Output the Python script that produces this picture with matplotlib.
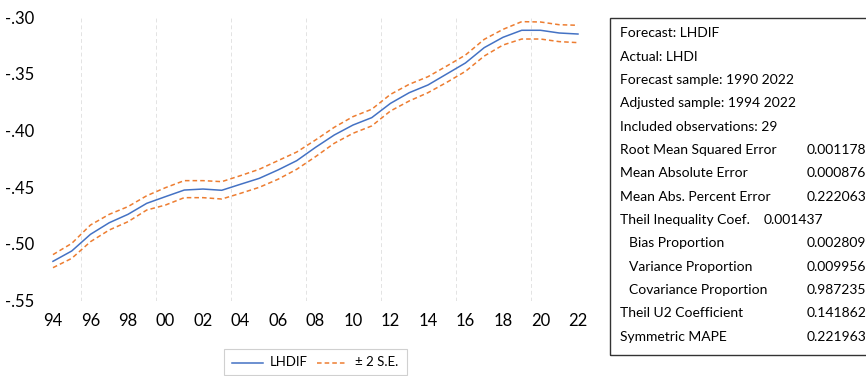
import matplotlib
matplotlib.use("Agg")
import matplotlib.pyplot as plt
from matplotlib.patches import Rectangle
from matplotlib.lines import Line2D
from matplotlib.ticker import FuncFormatter, FixedLocator

plt.rcParams['font.family'] = ['Lato', 'DejaVu Sans']

years = list(range(1994, 2023))
forecast = [-0.5153, -0.5062, -0.4915, -0.4813, -0.4739, -0.4642, -0.4583, -0.4525,
            -0.4516, -0.4527, -0.4474, -0.4422, -0.4348, -0.4266, -0.4149, -0.4040,
            -0.3952, -0.3887, -0.3761, -0.3667, -0.3599, -0.3502, -0.3405, -0.3270,
            -0.3179, -0.3117, -0.3117, -0.3141, -0.3150]
upper = [-0.5094, -0.4995, -0.4833, -0.4739, -0.4671, -0.4575, -0.4504, -0.4442,
         -0.4442, -0.4451, -0.4398, -0.4342, -0.4266, -0.4190, -0.4084, -0.3972,
         -0.3878, -0.3813, -0.3682, -0.3593, -0.3526, -0.3432, -0.3335, -0.3197,
         -0.3109, -0.3041, -0.3044, -0.3068, -0.3073]
lower = [-0.5209, -0.5127, -0.4980, -0.4877, -0.4804, -0.4701, -0.4657, -0.4592,
         -0.4592, -0.4604, -0.4554, -0.4501, -0.4430, -0.4342, -0.4231, -0.4113,
         -0.4025, -0.3960, -0.3828, -0.3740, -0.3667, -0.3576, -0.3479, -0.3344,
         -0.3247, -0.3194, -0.3194, -0.3217, -0.3226]

x_tick_years = list(range(1994, 2023, 2))
y_ticks = [-0.55, -0.50, -0.45, -0.40, -0.35, -0.30]
grid_years = [1995.5, 1999.5, 2003.5, 2007.5, 2011.5, 2015.5, 2019.5]

legend_labels = ["LHDIF", "\u00b1 2 S.E."]

stat_header = ["Forecast: LHDIF", "Actual: LHDI", "Forecast sample: 1990 2022",
               "Adjusted sample: 1994 2022", "Included observations: 29"]
stat_names = ["Root Mean Squared Error", "Mean Absolute Error", "Mean Abs. Percent Error",
              "Theil Inequality Coef.", "Bias Proportion", "Variance Proportion",
              "Covariance Proportion", "Theil U2 Coefficient", "Symmetric MAPE"]
stat_values = ["0.001178", "0.000876", "0.222063", "0.001437", "0.002809",
               "0.009956", "0.987235", "0.141862", "0.221963"]
stat_indent = [False, False, False, False, True, True, True, False, False]

BLUE = "#4472C4"
ORANGE = "#ED7D31"
W, H = 866, 376

fig = plt.figure(figsize=(W / 100, H / 100), dpi=100)
ax = fig.add_axes([43.6 / W, (H - 300.7) / H, 543.75 / W, 283.7 / H])
ax.set_xlim(1993.5, 2022.5)
ax.set_ylim(-0.55, -0.30)

for g in grid_years:
    ax.axvline(g, color="#e3e3e3", lw=0.7, ls=(0, (4, 3)), zorder=0)

ax.plot(years, forecast, color=BLUE, lw=1.1)
ax.plot(years, upper, color=ORANGE, lw=1.1, ls=(0, (3, 2)))
ax.plot(years, lower, color=ORANGE, lw=1.1, ls=(0, (3, 2)))

for s in ax.spines.values():
    s.set_visible(False)
ax.xaxis.set_major_locator(FixedLocator(x_tick_years))
ax.xaxis.set_major_formatter(FuncFormatter(lambda v, p: f"{int(round(v)) % 100:02d}"))
ax.yaxis.set_major_locator(FixedLocator(y_ticks))
ax.yaxis.set_major_formatter(FuncFormatter(lambda v, p: f"{v:.2f}".replace("0.", ".")))
ax.tick_params(axis="both", length=0, labelsize=12, colors="#000000")
ax.tick_params(axis="x", pad=8.5)
ax.tick_params(axis="y", pad=6.5)

# legend box
fig.patches.append(Rectangle((224 / W, (H - 375) / H), 183 / W, 26 / H, transform=fig.transFigure,
                             fill=True, facecolor="white", edgecolor="#d0d0d0", lw=0.8))
ly = (H - 362.5) / H
fig.lines.append(Line2D([231.7 / W, 263.3 / W], [ly, ly], transform=fig.transFigure, color=BLUE, lw=1.1))
fig.text(270 / W, ly, legend_labels[0], fontsize=9.5, va="center", ha="left")
fig.lines.append(Line2D([317 / W, 347 / W], [ly, ly], transform=fig.transFigure, color=ORANGE, lw=1.1,
                        ls=(0, (3, 2))))
fig.text(355 / W, ly, legend_labels[1], fontsize=9.5, va="center", ha="left")

# stats box
fig.patches.append(Rectangle((610 / W, (H - 355) / H), 300 / W, 337 / H, transform=fig.transFigure,
                             fill=False, edgecolor="#333333", lw=1.0))
y0, dy = 33.3, 23.33
row = 0
for t in stat_header:
    fig.text(620 / W, (H - (y0 + row * dy)) / H, t, fontsize=10, va="center", ha="left")
    row += 1
for name, val, ind in zip(stat_names, stat_values, stat_indent):
    yy = (H - (y0 + row * dy)) / H
    fig.text((629 if ind else 620) / W, yy, name, fontsize=10, va="center", ha="left")
    vx = 764 if name.startswith("Theil Inequality") else 807
    fig.text(vx / W, yy, val, fontsize=10, va="center", ha="left")
    row += 1

fig.savefig("out.png", dpi=100)
